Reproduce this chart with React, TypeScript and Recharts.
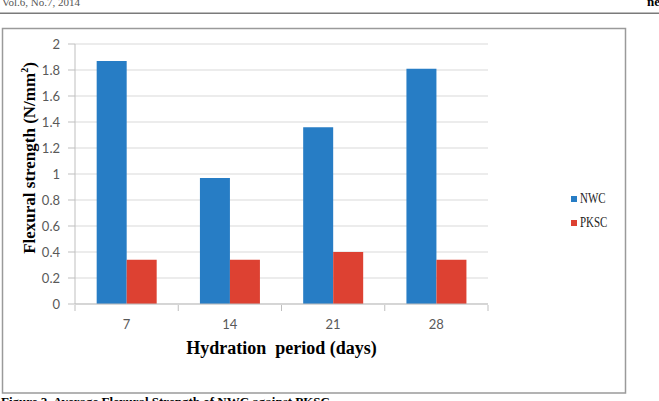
import React from "react";
import { BarChart, Bar, XAxis, YAxis, CartesianGrid, Legend } from "recharts";

const categories = ["7", "14", "21", "28"];
const nwcValues = [1.87, 0.97, 1.36, 1.81];
const pkscValues = [0.34, 0.34, 0.4, 0.34];
const yTicks = [0, 0.2, 0.4, 0.6, 0.8, 1, 1.2, 1.4, 1.6, 1.8, 2];
const boundaryTicks = [0, 1, 2, 3, 4];
const seriesNames = ["NWC", "PKSC"];
const colors = ["#277DC5", "#DD4132"];

const data = categories.map((c, i) => ({
  period: c,
  NWC: nwcValues[i],
  PKSC: pkscValues[i],
  idx: i + 0.5,
}));

const YLabel = (props: any) => {
  const vb = props.viewBox || {};
  const cx = 34.5;
  const cy = vb.y + vb.height / 2 - 16;
  return (
    <text
      x={cx}
      y={cy}
      transform={`rotate(-90, ${cx}, ${cy})`}
      textAnchor="middle"
      fontFamily="'Liberation Serif', 'Times New Roman', serif"
      fontWeight="bold"
      fontSize={17}
      fill="#000"
    >
      Flexural strength (N/mm
      <tspan dy={-7} fontSize={10}>2</tspan>
      <tspan dy={7}>)</tspan>
    </text>
  );
};

const EmptyTick = () => <g />;

const LegendContent = () => (
  <div style={{ fontFamily: "'Liberation Serif', 'Times New Roman', serif", fontSize: 14, color: "#222" }}>
    {seriesNames.map((n, i) => (
      <div key={n} style={{ display: "flex", alignItems: "center", height: 24 }}>
        <span style={{ display: "inline-block", width: 6, height: 6, background: colors[i], marginRight: 3 }} />
        <span style={{ display: "inline-block", transform: "scaleX(0.78)", transformOrigin: "left center" }}>{n}</span>
      </div>
    ))}
  </div>
);

export default function App() {
  const tickFont = { fontFamily: "Lato, 'Liberation Sans', sans-serif", fontSize: 13, fill: "#595959" };
  return (
    <div style={{ position: "absolute", left: 0, top: 0, width: 659, height: 401, overflow: "hidden", background: "#fff" }}>
      <svg width={659} height={401} style={{ position: "absolute", left: 0, top: 0 }}>
        <text x={2} y={6} fontFamily="'Liberation Serif', serif" fontSize={11} fill="#555">Vol.6, No.7, 2014</text>
        <text x={647} y={6} fontFamily="'Liberation Serif', serif" fontSize={13} fontWeight="bold" fill="#000">ne</text>
        <line x1={0} x2={659} y1={13.3} y2={13.3} stroke="#7a7a7a" strokeWidth={1.5} />
        <rect x={2.5} y={28.5} width={623} height={364.5} fill="none" stroke="#9a9a9a" strokeWidth={1.5} />
        <text x={1} y={406} fontFamily="'Liberation Serif', serif" fontSize={13} fontWeight="bold" fill="#000">
          Figure 2. Average Flexural Strength of NWC against PKSC
        </text>
      </svg>
      <div style={{ position: "absolute", left: 0, top: 0 }}>
        <BarChart
          width={659}
          height={401}
          data={data}
          margin={{ top: 44, right: 171, bottom: 95, left: 0 }}
          barCategoryGap="21%"
          barGap={0}
        >
          <CartesianGrid vertical={false} stroke="#d9d9d9" strokeWidth={1} />
          <XAxis
            dataKey="period"
            height={1}
            axisLine={{ stroke: "#bfbfbf" }}
            tickLine={false}
            tickSize={6}
            tickMargin={10}
            tick={tickFont}
            label={{
              value: "Hydration\u00a0\u00a0period (days)",
              position: "insideBottom",
              offset: -49,
              style: { fontFamily: "'Liberation Serif', serif", fontWeight: "bold", fontSize: 18, fill: "#000" },
            }}
          />
          <XAxis
            xAxisId="b"
            type="number"
            dataKey="idx"
            domain={[0, 4]}
            ticks={boundaryTicks}
            interval={0}
            height={1}
            tick={<EmptyTick />}
            axisLine={false}
            tickLine={{ stroke: "#bfbfbf" }}
            tickSize={6}
            allowDataOverflow
          />
          <YAxis
            width={75}
            domain={[0, 2]}
            ticks={yTicks}
            axisLine={{ stroke: "#bfbfbf" }}
            tickLine={{ stroke: "#bfbfbf" }}
            tickSize={7}
            tickMargin={8}
            tick={tickFont}
            label={<YLabel />}
          />
          <Legend
            layout="vertical"
            align="center"
            verticalAlign="middle"
            content={<LegendContent />}
            wrapperStyle={{ position: "absolute", left: 571, top: 187, width: 60 }}
          />
          <Bar dataKey="NWC" fill={colors[0]} isAnimationActive={false} />
          <Bar dataKey="PKSC" fill={colors[1]} isAnimationActive={false} />
        </BarChart>
      </div>
    </div>
  );
}
